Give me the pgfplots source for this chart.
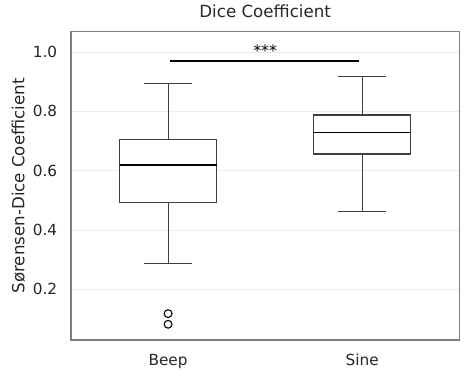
\documentclass[border=0pt]{standalone}
\usepackage{fontspec}
\setmainfont{DejaVu Sans}
\usepackage{pgfplots}
\pgfplotsset{compat=1.18}
\usepgfplotslibrary{statistics}
\definecolor{txt}{HTML}{262626}
\definecolor{boxc}{HTML}{3F3F3F}
\definecolor{gridc}{HTML}{EBEBEB}
\definecolor{framec}{HTML}{808080}
\begin{document}
\begin{tikzpicture}
\begin{axis}[
  scale only axis,
  width=388.3pt, height=308.3pt,
  xmin=-0.5, xmax=1.5,
  ymin=0.029, ymax=1.0685,
  xtick={0,1}, xticklabels={Beep,Sine},
  ytick={0.2,0.4,0.6,0.8,1.0},
  yticklabel style={/pgf/number format/fixed,/pgf/number format/fixed zerofill,/pgf/number format/precision=1},
  /pgf/number format/assume math mode=true,
  major tick length=0pt,
  axis line style={framec, line width=1.1pt},
  ymajorgrids,
  grid style={gridc, line width=0.8pt},
  tick label style={font=\fontsize{15.28}{18}\selectfont, text=txt},
  yticklabel style={anchor=east, inner sep=0pt, xshift=-13.7pt},
  xticklabel style={anchor=base, inner sep=0pt, yshift=-25pt},
  title={Dice Coefficient},
  title style={font=\fontsize{16.67}{20}\selectfont, text=txt, at={(0.5,1)}, anchor=base, yshift=8pt, inner sep=0pt},
  ylabel={Sørensen-Dice Coefficient},
  ylabel style={font=\fontsize{16.67}{20}\selectfont, text=txt, at={(axis description cs:-0.1198,0.5)}, anchor=base, rotate=0, inner sep=0pt},
  clip=false,
  boxplot/draw direction=y,
  boxplot/every median/.style={black, line width=1.1pt},
]
\addplot+[boxplot prepared={lower whisker=0.288, lower quartile=0.494, median=0.619, upper quartile=0.706, upper whisker=0.895, draw position=0, box extend=0.5, whisker extend=0.25},
  draw=boxc, fill=white, line width=1.1pt, solid,
  mark=o, mark size=3.9pt, mark options={black, line width=1.1pt, fill=none}]
  table[row sep=\\, y index=0] {0.118\\ 0.082\\};
\addplot+[boxplot prepared={lower whisker=0.463, lower quartile=0.656, median=0.729, upper quartile=0.7875, upper whisker=0.918, draw position=1, box extend=0.5, whisker extend=0.25},
  draw=boxc, fill=white, line width=1.1pt, solid, mark=none]
  coordinates {};
\addplot[black, line width=2.2pt, mark=none] coordinates {(0.01,0.97) (0.985,0.97)};
\node[anchor=base, font=\fontsize{15.8}{18}\selectfont, text=black, inner sep=0pt] at (axis cs:0.5,0.97) [yshift=4pt] {***};
\end{axis}
\pgfresetboundingbox
\path[use as bounding box] (-71pt,-38pt) rectangle (397pt,340pt);
\end{tikzpicture}
\end{document}
